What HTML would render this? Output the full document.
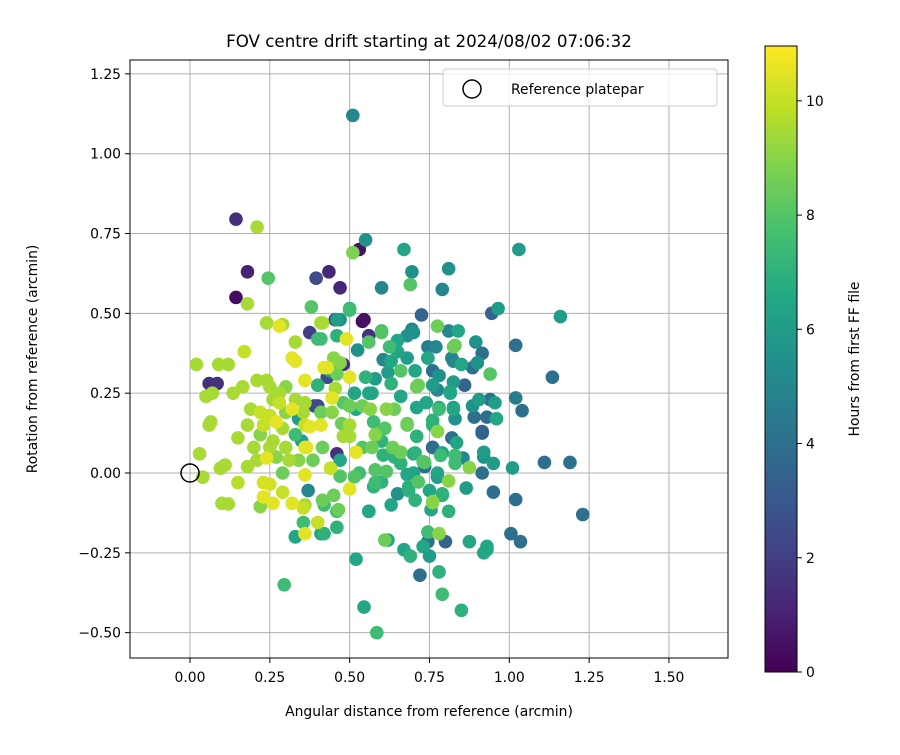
<!DOCTYPE html>
<html><head><meta charset="utf-8"><style>
body{margin:0;background:#fff;}
svg text{font-family:"DejaVu Sans","Liberation Sans",sans-serif;fill:#000;}
</style></head><body>
<svg id="chart" width="900" height="750" viewBox="0 0 900 750" xmlns="http://www.w3.org/2000/svg">
<defs>
<linearGradient id="vir" x1="0" y1="1" x2="0" y2="0">
<stop offset="0" stop-color="#440154"/><stop offset="0.1" stop-color="#482475"/><stop offset="0.2" stop-color="#414487"/><stop offset="0.3" stop-color="#355f8d"/><stop offset="0.4" stop-color="#2a788e"/><stop offset="0.5" stop-color="#21918c"/><stop offset="0.6" stop-color="#22a884"/><stop offset="0.7" stop-color="#44bf70"/><stop offset="0.8" stop-color="#7ad151"/><stop offset="0.9" stop-color="#bddf26"/><stop offset="1" stop-color="#fde725"/>
</linearGradient>
<clipPath id="plotclip"><rect x="130" y="60" width="598" height="598"/></clipPath>
</defs>
<rect x="130" y="60" width="598" height="598" fill="#fff"/>
<g id="grid"></g>
<g id="points" clip-path="url(#plotclip)"></g>
<circle id="refmark" r="9" fill="none" stroke="#000" stroke-width="1.5"/>
<rect x="130" y="60" width="598" height="598" fill="none" stroke="#000" stroke-width="1"/>
<g id="xticks"></g>
<g id="yticks"></g>
<text x="429" y="47" font-size="16.7" text-anchor="middle">FOV centre drift starting at 2024/08/02 07:06:32</text>
<text x="429" y="716" font-size="13.9" text-anchor="middle">Angular distance from reference (arcmin)</text>
<text x="0" y="0" font-size="13.9" text-anchor="middle" transform="translate(37,359) rotate(-90)">Rotation from reference (arcmin)</text>
<g>
<rect x="443" y="69" width="274" height="37" rx="3" fill="#fff" fill-opacity="0.8" stroke="#ccc"/>
<circle cx="472" cy="89" r="9" fill="none" stroke="#000" stroke-width="1.5"/>
<text x="511" y="94" font-size="13.9">Reference platepar</text>
</g>
<rect x="765" y="46" width="32" height="626" fill="url(#vir)" stroke="#000" stroke-width="1"/>
<g id="cticks"></g>
<text x="0" y="0" font-size="13.9" text-anchor="middle" transform="translate(859,359) rotate(-90)">Hours from first FF file</text>
</svg>
<script>
const xTicks=[0,0.25,0.5,0.75,1.0,1.25,1.5];
const xTickLabels=["0.00","0.25","0.50","0.75","1.00","1.25","1.50"];
const yTicks=[-0.5,-0.25,0,0.25,0.5,0.75,1.0,1.25];
const yTickLabels=["−0.50","−0.25","0.00","0.25","0.50","0.75","1.00","1.25"];
const cTicks=[0,2,4,6,8,10];
const xVals=[0.51,0.144,0.21,0.18,0.245,0.144,0.18,0.395,0.435,0.47,0.53,0.51,0.55,0.67,0.695,0.69,0.60,0.38,0.5,0.545,0.455,0.46,0.24,0.28,0.29,0.41,0.375,0.4,0.6,0.56,0.33,0.49,0.17,0.32,0.33,0.02,0.09,0.12,0.43,0.48,0.5,0.36,0.43,0.06,0.085,0.05,0.07,0.135,0.165,0.21,0.24,0.4,0.445,0.06,0.065,0.15,0.03,0.24,0.36,0.46,0.52,0.04,0.095,0.11,0.15,0.23,0.25,0.29,0.36,0.44,0.37,0.5,0.23,0.26,0.29,0.32,0.355,0.1,0.12,0.22,0.42,0.46,0.56,0.355,0.4,0.33,0.36,0.42,0.46,0.61,0.62,
0.28,0.3,0.26,0.22,0.25,0.27,0.23,0.3,0.32,0.29,0.22,0.26,0.3,0.33,0.2,0.19,0.31,0.27,0.21,0.18,0.33,0.34,0.28,0.25,0.35,0.34,0.25,0.18,0.36,0.36,
1.03,0.81,0.79,0.725,0.945,0.965,1.16,0.775,0.81,0.84,0.695,0.83,0.895,0.915,1.02,0.745,0.77,0.745,0.82,0.85,0.9,0.885,0.94,1.135,0.76,0.78,0.825,0.86,0.715,0.775,0.815,0.94,0.955,0.905,1.02,1.04,0.885,0.825,0.78,0.89,0.93,0.96,0.83,0.76,0.915,0.915,0.68,0.71,0.775,0.82,0.76,0.835,0.785,0.83,0.855,0.92,0.92,0.95,1.01,1.11,1.19,0.875,0.735,0.70,0.915,0.735,0.81,0.775,0.715,0.685,0.865,0.95,1.02,0.79,0.76,0.755,0.81,1.23,0.745,0.78,0.745,0.8,0.875,0.93,1.005,1.035,
0.5,0.54,0.47,0.415,0.6,0.7,0.41,0.46,0.525,0.56,0.625,0.65,0.68,0.825,0.45,0.47,0.47,0.42,0.58,0.605,0.63,0.66,0.62,0.705,0.745,0.825,0.46,0.43,0.40,0.455,0.515,0.56,0.66,0.71,0.76,0.815,0.39,0.355,0.41,0.445,0.5,0.54,0.565,0.615,0.64,0.71,0.78,0.825,0.375,0.41,0.475,0.5,0.575,0.61,0.68,0.76,0.48,0.5,0.58,0.365,0.415,0.54,0.57,0.635,0.66,0.705,0.76,0.79,0.385,0.47,0.605,0.66,0.73,0.83,0.47,0.515,0.53,0.58,0.615,0.68,0.775,0.575,0.6,0.65,0.685,0.75,0.79,0.415,0.465,0.36,0.56,0.63,0.705,0.76,0.45,
0.93,0.92,0.69,0.75,0.72,0.78,0.52,0.295,0.79,0.85,0.545,0.585,0.67,0.73,0.33,0.41,0.55,0.65,0.59,0.52,0.68,0.6,0.57,0.63,0.74,0.48,0.44,0.64,0.7,0.58];
const yVals=[1.12,0.795,0.77,0.63,0.61,0.55,0.53,0.61,0.63,0.58,0.70,0.69,0.73,0.70,0.63,0.59,0.58,0.52,0.51,0.48,0.48,0.48,0.47,0.46,0.465,0.47,0.44,0.42,0.44,0.43,0.41,0.42,0.38,0.36,0.35,0.34,0.34,0.34,0.33,0.34,0.30,0.29,0.30,0.28,0.28,0.24,0.25,0.25,0.27,0.29,0.29,0.21,0.235,0.15,0.16,0.11,0.06,0.047,0.08,0.06,0.065,-0.013,0.015,0.025,-0.03,-0.03,-0.035,0,-0.006,0.015,-0.055,-0.05,-0.075,-0.095,-0.06,-0.095,-0.11,-0.095,-0.097,-0.105,-0.1,-0.12,-0.12,-0.155,-0.155,-0.2,-0.19,-0.19,-0.17,-0.21,-0.21,
0.25,0.27,0.23,0.19,0.18,0.16,0.15,0.19,0.2,0.14,0.12,0.1,0.08,0.12,0.08,0.2,0.04,0.05,0.04,0.15,0.23,0.17,0.22,0.27,0.1,0.04,0.08,0.02,0.15,0.22,
0.70,0.64,0.575,0.495,0.5,0.515,0.49,0.46,0.445,0.445,0.45,0.40,0.41,0.375,0.40,0.395,0.395,0.36,0.36,0.34,0.345,0.33,0.31,0.30,0.32,0.305,0.285,0.275,0.275,0.26,0.25,0.23,0.22,0.23,0.235,0.195,0.21,0.2,0.2,0.175,0.175,0.17,0.17,0.165,0.13,0.125,0.15,0.115,0.13,0.11,0.08,0.095,0.055,0.055,0.047,0.065,0.05,0.03,0.016,0.033,0.033,0.017,0.033,0.06,0,0.02,-0.025,-0.013,-0.028,-0.043,-0.047,-0.06,-0.083,-0.07,-0.093,-0.115,-0.12,-0.13,-0.185,-0.19,-0.215,-0.215,-0.215,-0.23,-0.19,-0.215,
0.515,0.475,0.48,0.47,0.445,0.44,0.42,0.43,0.385,0.41,0.395,0.415,0.43,0.395,0.36,0.34,0.345,0.33,0.295,0.355,0.35,0.32,0.315,0.32,0.36,0.35,0.31,0.3,0.275,0.265,0.25,0.25,0.24,0.27,0.275,0.255,0.21,0.19,0.19,0.19,0.21,0.21,0.2,0.2,0.2,0.205,0.205,0.205,0.145,0.15,0.155,0.15,0.16,0.14,0.155,0.15,0.115,0.115,0.12,0.08,0.08,0.08,0.08,0.08,0.065,0.063,0.08,0.063,0.04,0.04,0.056,0.03,0.035,0.03,-0.01,-0.012,0,0.01,0.005,-0.005,0,-0.043,-0.028,-0.065,-0.055,-0.055,-0.065,-0.085,-0.115,-0.1,-0.12,-0.1,-0.085,-0.09,-0.07,
-0.24,-0.25,-0.26,-0.26,-0.32,-0.31,-0.27,-0.35,-0.38,-0.43,-0.42,-0.5,-0.24,-0.23,-0.2,-0.19,0.3,0.38,0.12,0.2,0.36,0.1,0.25,0.28,0.22,0.22,0.32,0.05,0.0,-0.03];
const hourVals=[5,1.5,9.5,1,8,0.3,9.5,2.5,1.2,1.2,0.5,8.8,5.5,6.5,5.5,8,5,8,7.5,0.5,1.5,6,9.5,10.5,9.5,9.5,2,7.5,8,1.5,9.5,10.5,10,10.5,10.5,9.5,9.5,9.5,10.5,1.5,10.5,10.5,2.5,1.5,1.5,9.5,9.5,9.5,9.5,9.5,9.5,2.5,10.5,9.5,9.5,9.5,9.5,10.5,10.5,1.5,10.5,9.5,9.5,9.5,9.8,10.3,10.3,8.5,10.5,10,5,10.5,10.5,10.5,10,10.5,10,9.5,9.5,9,7.5,7.5,6.5,7.5,10,6.5,10.5,7,7,8.5,6.5,
9.5,9,9.5,10,10,10.5,10,9,10.5,9.5,9,9.5,9.5,7.5,9.5,9.5,9.5,9,9.5,9.5,9.5,6,10,9.5,6,9,9.5,9.5,10,9.5,
6,5.5,5,3.5,3.5,6,6,8.5,5,6.5,5,8.5,5.5,4,4,4.5,5,6.5,5,6.5,5.5,4,8,4,4,5.5,6,3.5,8.5,5,6.5,4,6,6,4.5,4,5.5,6.5,7.5,4,4,6.5,5.5,7,3.5,3.5,8.5,7,9,4,4,6.5,7.5,7.5,5,6,5.5,6,6,4,4,9,8,6.5,4,4,9,6,8,7,6,4,4,7,9,6.5,7,4,7.5,9,4,3.5,6.5,6.5,4,4,
7,0.3,5.5,9.5,7.5,5.5,7.5,7,5.5,8,7.5,6.5,5.5,8.5,9,2,9,10.5,6,5,6.5,8,6,6.5,6.5,5,8.5,2.5,7,9.5,6.5,6.5,6.5,8.5,6,6.5,2.5,9.5,8.5,9,8.5,8.5,9,9,8.5,6.5,6.5,6,10.5,10.5,8.5,9.5,7.5,8,8.5,7,9.5,9.5,9,10.5,8.5,8,8.5,8.5,8.5,7,4,6.5,8.5,6.5,7,7,8,7.5,8,8,7.5,8,8,6.5,6.5,7,7,5.5,7,6.5,7,8.5,8.5,9.5,6.5,6.5,7,9,8.5,
6.5,6.5,7,6,4,7,6.5,7.5,7.5,7,6.5,7.5,6.5,6.5,6.5,6.5,7,6.5,7.5,6.5,6,7,6.5,7,6.5,8,6.5,7,6.5,7.5];

const NS="http://www.w3.org/2000/svg";
const X0=190, Y0=473, S=319.3;
function xs(v){return X0+v*S;}
function ys(v){return Y0-v*S;}
const CB_TOP=46, CB_BOT=672, CMAX=10.96;
function cy(v){return CB_BOT-(v/CMAX)*(CB_BOT-CB_TOP);}
const vir=[[68,1,84],[72,36,117],[65,68,135],[53,95,141],[42,120,142],[33,145,140],[34,168,132],[68,191,112],[122,209,81],[189,223,38],[253,231,37]];
function color(h){let t=Math.max(0,Math.min(1,h/CMAX))*10;let i=Math.min(9,Math.floor(t));let f=t-i;const a=vir[i],b=vir[i+1];
return "rgb("+a.map((c,k)=>Math.round(c+(b[k]-c)*f)).join(",")+")";}
function mk(tag,attrs){const e=document.createElementNS(NS,tag);for(const k in attrs)e.setAttribute(k,attrs[k]);return e;}

const grid=document.getElementById('grid');
const xt=document.getElementById('xticks');
xTicks.forEach((v,i)=>{
  const gl=mk('line',{x1:xs(v),x2:xs(v),y1:60,y2:658,stroke:'#b0b0b0','stroke-width':1});
  
  
  grid.appendChild(gl);
  const tk=mk('line',{x1:xs(v),x2:xs(v),y1:658,y2:663,stroke:'#000'});
  
  
  xt.appendChild(tk);
  const tx=mk('text',{x:xs(v),y:682,'font-size':13.9,'text-anchor':'middle'});
  
  
  tx.textContent=xTickLabels[i];xt.appendChild(tx);
});
const yt=document.getElementById('yticks');
yTicks.forEach((v,i)=>{
  const gl=mk('line',{x1:130,x2:728,y1:ys(v),y2:ys(v),stroke:'#b0b0b0','stroke-width':1});
  
  
  grid.appendChild(gl);
  const tk=mk('line',{x1:125,x2:130,y1:ys(v),y2:ys(v),stroke:'#000'});
  
  
  yt.appendChild(tk);
  const tx=mk('text',{x:121,y:ys(v)+5,'font-size':13.9,'text-anchor':'end'});
  
  
  tx.textContent=yTickLabels[i];yt.appendChild(tx);
});
const ct=document.getElementById('cticks');
cTicks.forEach(v=>{
  const tk=mk('line',{x1:797,x2:802,y1:cy(v),y2:cy(v),stroke:'#000'});
  
  
  ct.appendChild(tk);
  const tx=mk('text',{x:806,y:cy(v)+5,'font-size':13.9});
  
  
  tx.textContent=String(v);ct.appendChild(tx);
});
const pts=document.getElementById('points');
const n=Math.min(xVals.length,yVals.length,hourVals.length);
const order=[...Array(n).keys()].sort((a,b)=>hourVals[a]-hourVals[b]);
order.forEach(i=>{
  const c=mk('circle',{cx:xs(xVals[i]),cy:ys(yVals[i]),r:6.8,fill:color(hourVals[i])});
  
  
  pts.appendChild(c);
});
const rm=document.getElementById('refmark');
rm.setAttribute('cx',xs(0));rm.setAttribute('cy',ys(0));
</script>
</body></html>
